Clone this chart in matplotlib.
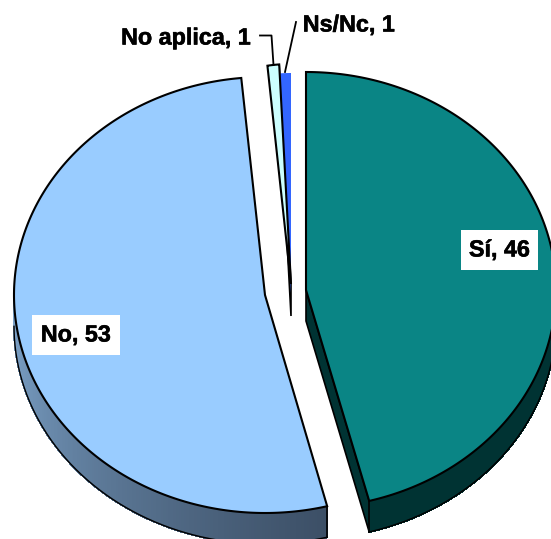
import numpy as np
import matplotlib
matplotlib.use("Agg")
import matplotlib.pyplot as plt
import matplotlib.patheffects as pe
from matplotlib.patches import Polygon
from matplotlib.collections import PolyCollection
from matplotlib.colors import to_rgb

categories = ["Sí", "No", "No aplica", "Ns/Nc"]
values = [46, 53, 1, 1]
colors = ["#0A8585", "#99CCFF", "#CCFFFF", "#3366FF"]
side_left = ["#003333", "#7CA2C8", "#5F8080", "#3366FF"]
side_right = ["#003333", "#3C4F66", "#5F8080", "#3366FF"]

centers = [(306, 290), (265, 295), (291, 284), (291, 293)]
radii = [(250, 218), (251, 218), (190, 220), (190, 220)]
depths = [31, 31, 32, 0]
# small per-slice angle corrections (degrees) at slice start / end
adjust = [(0, 1.4), (1.7, 1.7), (0, 0), (0, 0)]

plt.rcParams["font.family"] = ["Liberation Sans", "DejaVu Sans"]

fig = plt.figure(figsize=(5.51, 5.39), dpi=100)
ax = fig.add_axes([0, 0, 1, 1])
ax.set_xlim(0, 551)
ax.set_ylim(539, 0)
ax.axis("off")

fracs = np.array(values) / sum(values) * 2 * np.pi
ends = np.cumsum(fracs)
starts = ends - fracs


def mix(a, b, f):
    a, b = np.array(to_rgb(a)), np.array(to_rgb(b))
    return tuple(a + (b - a) * f)


for i in [3, 2, 1, 0]:
    c = np.array(centers[i], float)
    rx, ry = radii[i]
    d = np.array([0, depths[i]])
    ts = np.linspace(starts[i] + np.radians(adjust[i][0]), ends[i] + np.radians(adjust[i][1]), 300)
    arc = np.column_stack([c[0] + rx * np.sin(ts), c[1] - ry * np.cos(ts)])
    # cut face
    if i == 0:
        b = arc[-1]
        ax.add_patch(Polygon([c, b, b + d, c + d], closed=True, fc=side_right[i],
                             ec="black", lw=1.2, zorder=2))
    if i == 2:
        b = arc[-1]
        ax.add_patch(Polygon([c, b, b + d, c + d], closed=True, fc=side_right[i],
                             ec="black", lw=1.2, zorder=4))
    # outer rim
    idx = np.where(np.cos(ts) < 0)[0]
    if len(idx) > 1 and depths[i] > 0:
        rim = arc[idx]
        lo, hi = rim[:, 0].min(), rim[:, 0].max()
        quads = [[rim[j], rim[j + 1], rim[j + 1] + d, rim[j] + d] for j in range(len(rim) - 1)]
        cols = [mix(side_left[i], side_right[i], ((rim[j, 0] - lo) / (hi - lo)) ** 0.55)
                for j in range(len(rim) - 1)]
        ax.add_collection(PolyCollection(quads, facecolors=cols, edgecolors=cols, linewidths=0.8,
                                         antialiaseds=False, zorder=3))
        ax.plot(rim[:, 0], rim[:, 1] + d[1], color="black", lw=1.0, zorder=5)
        tip = arc[-1] if i == 0 else arc[0]
        ax.plot([tip[0], tip[0]], [tip[1], tip[1] + d[1]], color="black", lw=1.2, zorder=5)
    edge = "none" if i == 3 else "black"
    ax.add_patch(Polygon(np.vstack([[c], arc]), closed=True, fc=colors[i], ec=edge, lw=1.5,
                         joinstyle="miter", zorder=6))

font = dict(fontweight="bold", fontsize=16.8, color="black", zorder=8, va="center", ha="center")
label_pos = [(499.5, 250), (76, 335), (186, 38), (349, 25)]
box = dict(boxstyle="square,pad=0.36", fc="white", ec="none")
for i, (x, y) in enumerate(label_pos):
    t = ax.text(x, y, f"{categories[i]}, {values[i]}", bbox=box if i < 2 else None, **font)
    t.set_path_effects([pe.withStroke(linewidth=0.4, foreground="black")])

ax.plot([260, 271.5, 273.5], [35.5, 35.5, 65], color="black", lw=1.3, zorder=7)
ax.plot([296, 285], [22, 72], color="black", lw=1.3, zorder=7)

fig.savefig("out.png", dpi=100)
